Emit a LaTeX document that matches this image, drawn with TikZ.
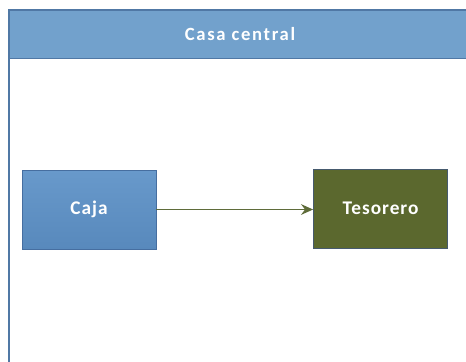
\documentclass[tikz,border=0pt]{standalone}
\usepackage{fontspec}
\setmainfont{Carlito}
\newfontfamily\boxfont[LetterSpace=5]{Carlito}
\newfontfamily\hdrfont[LetterSpace=9]{Carlito}
\usetikzlibrary{arrows.meta}
\definecolor{hdrfill}{RGB}{114,161,204}
\definecolor{hdrline}{RGB}{80,120,165}
\definecolor{cajafill}{RGB}{96,145,196}
\definecolor{cajatop}{RGB}{104,153,203}
\definecolor{cajabot}{RGB}{88,137,188}
\definecolor{cajaline}{RGB}{70,110,160}
\definecolor{tesfill}{RGB}{91,104,46}
\definecolor{tesline}{RGB}{70,90,110}
\definecolor{arrcol}{RGB}{95,108,58}
\tikzset{
  box/.style={draw, line width=0.6pt, minimum width=100.5pt, minimum height=59.25pt, inner sep=0pt, text=white, font=\boxfont\bfseries\fontsize{14.5pt}{16pt}\selectfont},
  conn/.style={draw=arrcol, line width=1.1pt, -{Stealth[length=9pt,width=8pt]}}
}
\begin{document}
\begin{tikzpicture}[x=0.75pt,y=-0.75pt]
\useasboundingbox (0,0) rectangle (466,361);
\fill[white] (0,0) rectangle (466,361);
\begin{scope}
\clip (0,0) rectangle (466,361);
\draw[hdrline, line width=1.2pt] (9,10) rectangle (480,380);
\node[fill=hdrfill, draw=hdrline, line width=0.8pt, minimum width=352.5pt, minimum height=36pt, anchor=north west, inner sep=0pt] (hdr) at (9,10) {};
\end{scope}
\node[text=white, font=\hdrfont\bfseries\fontsize{14pt}{16pt}\selectfont] (title) at (240,34) {Casa central};
\node[box, top color=cajatop, bottom color=cajabot, draw=cajaline] (caja) at (89,209.5) {Caja};
\node[box, fill=tesfill, draw=tesline] (tes) at (380.5,208.5) {Tesorero};
\draw[conn] (caja.east) -- (caja.east -| tes.west);
\end{tikzpicture}
\end{document}
